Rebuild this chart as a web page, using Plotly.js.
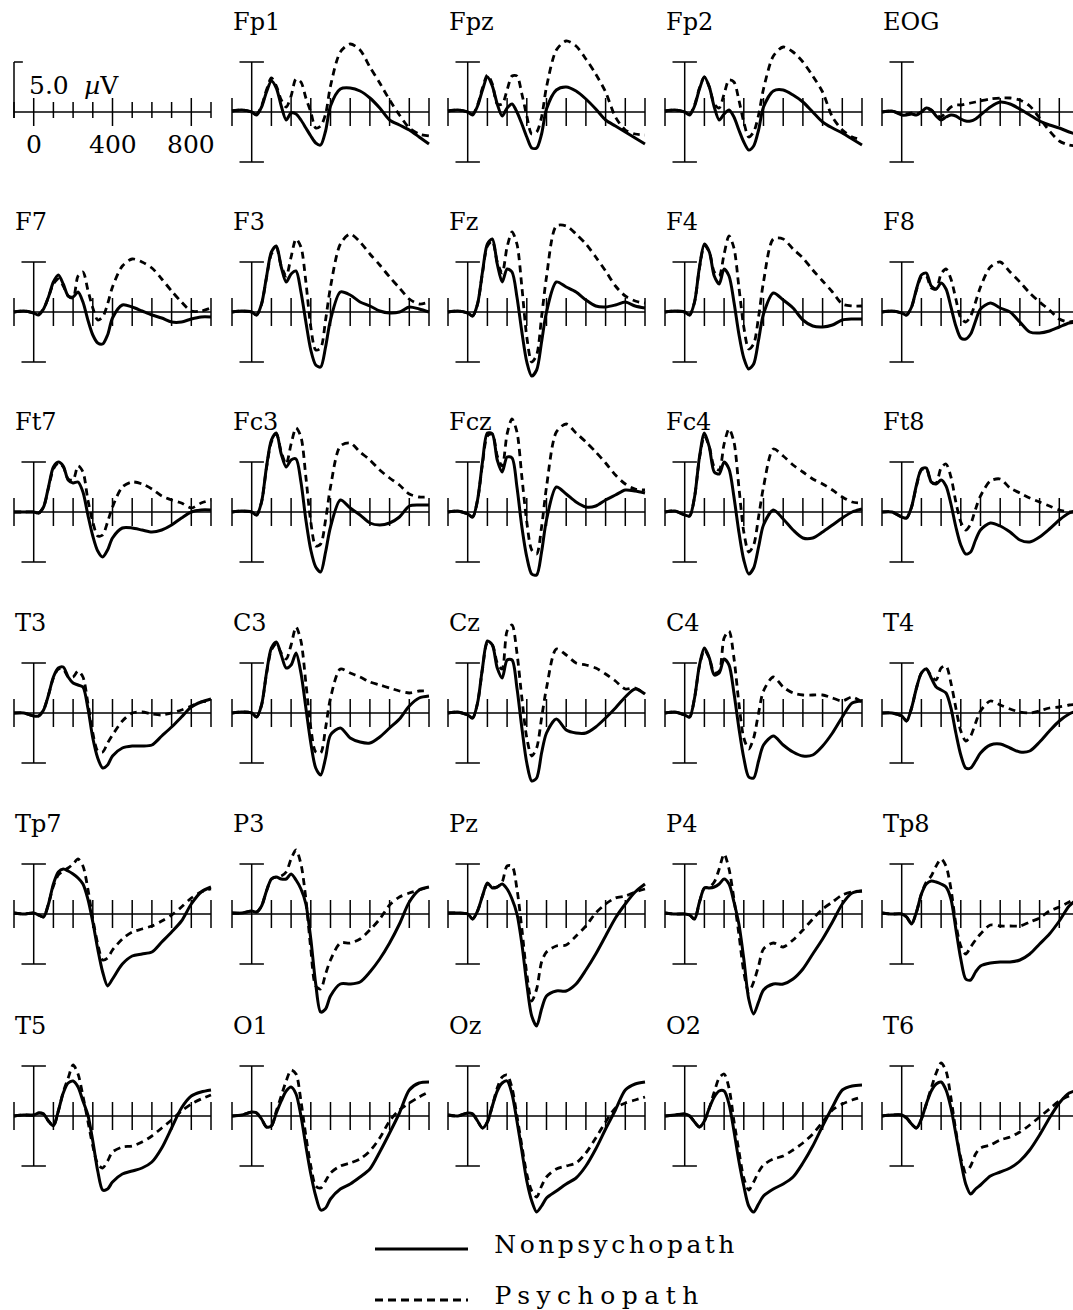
<!DOCTYPE html>
<html><head><meta charset="utf-8">
<script src="https://cdn.plot.ly/plotly-3.0.1.min.js"></script>
<style>html,body{margin:0;padding:0;background:#fff;overflow:hidden}#chart{width:1073px;height:1310px}</style>
</head><body><div id="chart"></div>
<script>
// time points (ms)
const times = [-100,-50,0,25,50,75,100,125,150,175,200,225,250,275,300,325,350,375,400,450,500,550,600,650,700,750,800,850,900];

// amplitudes (microvolts) : Non = Nonpsychopath (solid), Psy = Psychopath (dashed)
const fp1Non = [0.1,0.2,0.0,-0.3,0.5,2.0,3.1,2.4,0.6,-0.8,-0.1,-0.2,-0.8,-1.6,-2.4,-3.1,-3.3,-1.9,0.6,2.3,2.4,2.1,1.4,0.4,-0.8,-1.3,-1.8,-2.5,-3.2];
const fp1Psy = [0.1,0.2,0.0,-0.2,0.6,2.2,3.4,2.6,1.2,0.5,1.6,3.3,3.0,1.4,0.0,-1.6,-1.4,-0.2,2.6,6.0,6.8,6.2,4.5,2.9,1.2,-0.3,-1.6,-2.2,-2.4];
const fpzNon = [0.1,0.2,0.0,-0.3,0.6,2.2,3.5,2.6,0.8,-0.4,0.4,0.8,0.0,-1.2,-2.5,-3.6,-3.6,-2.2,0.3,2.2,2.5,2.1,1.3,0.3,-0.8,-1.4,-2.0,-2.6,-3.2];
const fpzPsy = [0.1,0.2,0.0,-0.2,0.7,2.4,3.7,2.8,0.8,0.8,2.2,3.6,3.6,1.8,-0.4,-2.2,-2.0,-0.5,2.5,6.2,7.1,6.6,5.3,3.8,2.0,-0.5,-1.8,-2.2,-2.3];
const fp2Non = [0.1,0.2,0.0,-0.3,0.6,2.3,3.5,2.5,0.5,-0.8,-0.2,0.2,-0.5,-1.8,-3.0,-3.8,-3.4,-1.8,0.5,2.1,2.2,1.7,1.0,0.0,-1.0,-1.6,-2.1,-2.7,-3.3];
const fp2Psy = [0.1,0.2,0.0,-0.2,0.7,2.4,3.5,2.5,0.8,0.4,1.8,3.2,3.0,1.2,-1.0,-2.5,-2.0,-0.3,2.3,5.6,6.5,6.0,5.0,3.6,2.0,-0.5,-1.8,-2.5,-2.8];
const eogNon = [0.0,0.1,-0.3,-0.3,-0.2,-0.3,0.0,0.4,0.2,-0.4,-0.8,-0.5,-0.3,-0.4,-0.7,-0.9,-0.9,-0.7,-0.3,0.5,1.0,0.8,0.3,-0.3,-0.9,-1.3,-1.6,-2.0,-2.3];
const eogPsy = [0.0,0.1,-0.2,-0.2,-0.1,-0.2,0.0,0.2,0.2,-0.3,-0.5,0.0,0.5,0.7,0.7,0.8,0.9,1.0,1.1,1.3,1.4,1.4,1.2,0.6,-0.6,-1.9,-2.9,-3.3,-3.4];

const f7Non = [0.0,0.1,-0.1,-0.3,0.3,1.5,3.0,3.7,2.8,1.6,1.5,2.0,1.0,-0.8,-2.3,-3.1,-3.2,-2.3,-0.6,0.7,0.5,0.1,-0.3,-0.6,-1.0,-1.0,-0.7,-0.5,-0.5];
const f7Psy = [0.0,0.1,-0.1,-0.2,0.3,1.5,2.8,3.3,2.6,1.6,1.4,3.6,4.0,2.2,0.4,-0.8,-0.5,0.8,2.5,4.6,5.3,5.0,4.4,3.3,2.1,1.0,0.1,0.1,0.4];
const f3Non = [0.0,0.1,0.0,-0.3,0.8,3.5,6.0,6.6,4.5,3.0,3.8,4.1,2.0,-1.0,-3.8,-5.3,-5.5,-3.5,-0.8,2.0,1.7,1.0,0.6,0.1,-0.1,0.0,0.5,0.3,0.0];
const f3Psy = [0.0,0.1,0.0,-0.3,0.8,3.4,5.8,6.4,4.6,3.6,5.5,7.3,6.5,3.0,-1.5,-3.8,-3.6,-0.8,2.5,6.8,7.8,7.0,5.8,4.7,3.5,2.4,1.3,0.8,1.0];
const fzNon = [0.0,0.1,-0.1,-0.4,0.8,4.0,6.8,7.3,4.8,3.0,4.3,4.0,1.5,-2.0,-5.0,-6.4,-5.8,-3.0,0.0,3.0,2.5,2.0,1.2,0.6,0.5,0.7,1.0,0.6,0.4];
const fzPsy = [0.0,0.1,-0.1,-0.4,0.8,3.9,6.6,7.1,5.0,3.9,6.5,8.0,6.8,2.5,-2.5,-5.0,-4.3,-0.5,3.5,8.6,8.6,7.8,6.8,5.5,4.1,2.6,1.6,1.1,0.9];
const f4Non = [0.0,0.1,0.0,-0.3,1.0,4.5,6.8,6.0,3.6,2.8,4.3,3.6,1.0,-2.2,-4.6,-5.7,-5.2,-2.8,-0.2,1.9,1.2,0.4,-0.8,-1.4,-1.5,-1.3,-0.8,-0.7,-0.7];
const f4Psy = [0.0,0.1,0.0,-0.3,1.0,4.4,6.6,6.0,4.0,3.6,5.8,7.6,6.4,2.5,-1.5,-3.7,-3.2,-0.5,3.0,7.3,7.3,6.3,5.4,4.2,3.1,2.0,0.8,0.6,0.6];
const f8Non = [0.0,0.1,-0.1,-0.3,0.5,2.3,3.7,3.9,2.6,2.3,2.9,2.3,0.5,-1.4,-2.6,-2.7,-2.2,-0.9,0.3,0.9,0.4,0.0,-1.0,-2.0,-2.1,-1.9,-1.5,-1.1,-1.0];
const f8Psy = [0.0,0.1,-0.1,-0.3,0.5,2.2,3.5,3.6,2.4,2.3,3.8,4.3,3.3,1.3,-0.6,-1.0,-0.4,1.0,2.5,4.5,5.0,4.0,3.0,1.9,1.0,0.2,-0.7,-1.0,-0.8];

const ft7Non = [0.0,0.0,0.0,-0.1,0.5,2.5,4.5,5.0,4.6,3.2,2.9,3.0,2.0,-0.3,-2.4,-3.9,-4.5,-3.8,-2.6,-1.6,-1.6,-1.8,-2.0,-1.8,-1.3,-0.6,0.0,0.2,0.2];
const ft7Psy = [0.0,0.0,0.0,-0.1,0.5,2.4,4.3,4.9,4.5,3.3,3.2,4.6,4.0,1.2,-1.0,-2.4,-2.3,-1.0,0.5,2.5,3.0,2.8,2.3,1.6,1.2,0.9,0.4,0.9,1.2];
const fc3Non = [0.0,0.1,0.0,-0.3,1.0,4.5,7.2,7.9,5.8,4.5,5.2,5.3,3.0,-0.8,-3.8,-5.5,-6.0,-4.0,-1.5,1.2,0.4,-0.3,-1.1,-1.3,-1.1,-0.5,0.6,0.7,0.7];
const fc3Psy = [0.0,0.1,0.0,-0.3,1.0,4.4,7.0,7.8,6.0,4.8,6.8,8.4,7.5,3.5,-1.0,-3.4,-3.2,-0.8,2.5,6.6,6.9,6.0,5.2,4.2,3.4,2.7,1.8,1.5,1.5];
const fczNon = [0.0,0.1,-0.2,-0.5,1.2,5.0,7.9,7.8,5.2,4.0,5.5,5.4,2.5,-1.5,-4.5,-6.2,-6.3,-4.0,-0.8,2.5,1.8,1.0,0.5,0.6,1.2,1.7,2.2,2.1,1.9];
const fczPsy = [0.0,0.1,-0.2,-0.5,1.2,4.8,7.6,7.8,5.6,4.6,7.8,9.3,8.0,3.5,-1.0,-3.8,-4.2,-1.5,2.5,8.0,8.8,7.9,7.0,6.0,4.9,3.7,2.8,2.3,2.2];
const fc4Non = [0.0,0.1,-0.3,-0.4,1.5,5.5,7.9,6.5,4.0,3.8,5.0,4.3,1.5,-2.0,-4.8,-6.2,-5.6,-3.5,-1.3,0.2,-0.7,-1.8,-2.6,-2.6,-2.0,-1.3,-0.6,0.0,0.3];
const fc4Psy = [0.0,0.1,-0.3,-0.4,1.5,5.4,7.6,6.5,4.5,4.2,6.8,8.3,7.0,2.5,-2.0,-4.0,-3.3,-0.5,2.5,6.3,5.6,4.7,4.0,3.3,2.8,2.2,1.5,1.0,0.9];
const ft8Non = [0.0,0.0,-0.5,-0.6,0.5,2.7,4.3,4.4,3.0,2.8,3.2,2.6,0.8,-1.5,-3.3,-4.2,-4.0,-2.8,-1.8,-1.1,-1.4,-2.0,-2.8,-3.0,-2.5,-1.7,-0.8,-0.1,0.2];
const ft8Psy = [0.0,0.0,-0.5,-0.6,0.5,2.6,4.2,4.3,3.0,2.9,4.4,4.8,3.5,1.0,-1.0,-1.8,-1.2,0.3,1.6,3.1,3.3,2.4,1.9,1.4,1.0,0.6,0.2,0.0,0.0];

const t3Non = [0.0,0.0,-0.3,-0.3,0.3,1.8,3.6,4.5,4.6,3.6,3.0,2.8,2.6,0.5,-2.5,-4.5,-5.5,-5.2,-4.3,-3.5,-3.3,-3.3,-3.2,-2.3,-1.4,-0.4,0.6,1.1,1.4];
const t3Psy = [0.0,0.0,-0.3,-0.3,0.3,1.8,3.5,4.4,4.4,3.6,3.6,4.2,3.6,1.0,-2.0,-3.8,-3.9,-3.0,-2.2,-0.8,0.0,0.1,-0.1,-0.2,0.0,0.3,0.7,1.1,1.2];
const c3Non = [0.0,0.1,0.0,-0.4,0.8,4.0,6.5,7.1,5.8,4.5,4.8,6.0,4.0,0.5,-3.0,-5.5,-6.2,-4.5,-2.2,-1.5,-2.5,-2.9,-3.0,-2.4,-1.5,-0.6,0.7,1.5,1.7];
const c3Psy = [0.0,0.1,0.0,-0.4,0.8,3.9,6.3,6.9,6.0,5.4,6.8,8.6,7.2,3.0,-1.5,-3.9,-4.0,-1.5,1.5,4.4,4.0,3.6,3.1,2.8,2.5,2.2,2.0,2.2,2.2];
const czNon = [0.0,0.1,-0.2,-0.5,1.0,4.5,7.2,6.8,4.5,3.5,5.3,5.3,2.5,-1.5,-5.0,-6.8,-6.5,-4.0,-2.0,-0.6,-1.7,-2.0,-2.0,-1.4,-0.5,0.5,1.6,2.4,1.9];
const czPsy = [0.0,0.1,-0.2,-0.5,1.0,4.4,7.0,6.8,5.0,4.4,8.2,8.8,6.0,1.5,-2.5,-4.3,-3.5,-0.5,2.5,6.4,5.8,5.0,4.8,4.5,3.9,3.2,2.4,2.5,1.9];
const c4Non = [0.0,0.1,-0.2,-0.4,1.5,4.8,6.5,5.5,3.8,4.0,5.4,4.8,2.0,-1.5,-4.5,-6.4,-6.5,-4.8,-3.2,-2.3,-3.2,-3.9,-4.3,-4.2,-3.3,-2.0,-0.4,1.0,1.2];
const c4Psy = [0.0,0.1,-0.2,-0.4,1.5,4.7,6.3,5.5,4.0,4.2,7.5,8.2,5.5,1.0,-2.5,-3.6,-2.5,0.0,2.2,3.6,2.6,2.0,1.8,1.8,1.8,1.5,1.2,1.6,1.1];
const t4Non = [0.0,0.0,-0.3,-0.8,0.5,2.5,4.0,4.4,3.5,2.6,2.3,2.0,0.5,-2.0,-4.2,-5.5,-5.5,-4.8,-4.0,-3.2,-3.1,-3.5,-3.9,-3.8,-2.9,-1.8,-0.8,-0.1,0.3];
const t4Psy = [0.0,0.0,-0.3,-0.8,0.5,2.5,4.0,4.4,3.7,3.3,4.5,4.7,3.0,0.5,-1.8,-2.8,-2.3,-1.0,0.2,1.2,0.8,0.4,0.1,0.0,0.2,0.5,0.6,0.8,0.9];

const tp7Non = [0.1,0.0,0.1,-0.1,-0.3,1.0,3.0,4.2,4.5,4.3,4.0,3.6,3.0,1.5,-0.8,-3.5,-5.8,-7.2,-6.5,-5.0,-4.2,-4.0,-3.8,-2.8,-1.8,-0.7,1.0,2.2,2.7];
const tp7Psy = [0.1,0.0,0.1,-0.1,-0.3,1.0,2.8,3.9,4.3,4.6,5.0,5.5,4.8,2.5,-0.5,-3.0,-4.6,-4.4,-3.6,-2.5,-1.8,-1.5,-1.2,-0.7,-0.1,0.7,1.6,2.2,2.5];
const p3Non = [0.1,0.1,0.3,0.2,0.8,2.3,3.5,3.7,3.5,3.5,4.0,3.4,2.5,1.0,-2.5,-7.0,-9.8,-9.5,-8.2,-7.0,-7.0,-6.8,-5.8,-4.5,-2.9,-1.0,1.2,2.4,2.7];
const p3Psy = [0.1,0.1,0.3,0.2,0.8,2.3,3.5,3.7,3.8,4.2,5.5,6.4,5.0,1.5,-3.5,-7.2,-7.5,-6.0,-4.6,-2.9,-2.9,-2.5,-1.6,-0.5,0.9,1.7,2.1,2.4,2.7];
const pzNon = [0.1,0.1,0.0,-0.5,0.3,1.8,3.1,2.6,2.7,3.0,2.5,1.5,0.0,-3.0,-7.0,-10.2,-11.2,-9.5,-8.2,-7.7,-7.7,-7.0,-5.6,-4.0,-2.2,-0.4,1.0,2.2,3.0];
const pzPsy = [0.1,0.1,0.0,-0.5,0.3,1.8,3.0,2.7,2.7,3.2,4.8,4.8,2.5,-1.5,-6.0,-8.7,-7.5,-4.8,-3.8,-3.2,-3.1,-2.2,-1.2,0.1,1.0,1.6,1.8,2.2,2.5];
const p4Non = [0.1,0.0,0.0,-0.1,-0.5,1.2,2.6,2.6,2.7,3.0,3.5,3.0,1.2,-1.0,-4.5,-8.5,-10.0,-8.8,-7.6,-7.0,-7.0,-6.5,-5.5,-4.0,-2.5,-0.8,1.0,2.1,2.3];
const p4Psy = [0.1,0.0,0.0,-0.1,-0.5,1.2,2.6,2.7,3.2,4.5,6.0,4.5,1.5,-2.0,-5.8,-7.8,-6.8,-5.2,-3.5,-2.9,-3.3,-2.6,-1.6,-0.5,0.5,1.2,1.9,2.2,2.3];
const tp8Non = [0.1,0.0,0.0,-0.3,-1.0,0.2,2.0,3.0,3.3,3.2,3.0,2.7,1.5,-1.5,-4.5,-6.5,-6.6,-5.8,-5.2,-4.9,-4.8,-4.8,-4.6,-4.0,-3.0,-2.0,-0.7,0.8,1.6];
const tp8Psy = [0.1,0.0,0.0,-0.3,-1.0,0.2,2.0,3.2,3.8,4.8,5.5,4.8,2.5,-1.0,-3.2,-4.0,-3.3,-2.6,-2.0,-1.1,-1.2,-1.2,-1.2,-0.8,-0.4,0.3,0.7,1.2,1.7];

const t5Non = [0.0,0.1,0.1,0.3,0.2,-0.5,-1.0,0.5,2.3,3.3,3.5,2.9,1.5,0.1,-2.5,-5.5,-7.4,-7.3,-6.6,-5.8,-5.5,-5.2,-4.6,-3.2,-1.2,0.8,2.0,2.4,2.6];
const t5Psy = [0.0,0.1,0.1,0.3,0.2,-0.5,-1.0,0.5,2.4,3.8,5.1,4.2,2.0,-0.5,-3.0,-4.8,-5.2,-4.5,-3.6,-3.1,-3.0,-2.6,-2.0,-1.2,-0.4,0.5,1.2,1.7,2.1];
const o1Non = [0.0,0.1,0.4,0.3,-0.3,-1.1,-1.0,0.3,1.5,2.5,2.9,2.2,0.0,-3.0,-5.8,-8.0,-9.4,-9.2,-8.3,-7.3,-6.8,-6.1,-5.3,-3.6,-1.7,0.3,2.6,3.3,3.4];
const o1Psy = [0.0,0.1,0.4,0.3,-0.3,-1.1,-1.0,0.5,2.0,3.5,4.6,4.2,1.5,-2.0,-5.0,-7.0,-7.2,-6.5,-5.7,-5.0,-4.7,-4.3,-3.5,-2.2,-0.5,0.6,1.3,1.9,2.4];
const ozNon = [0.1,0.0,0.3,0.2,-0.5,-1.2,-0.6,1.0,2.5,3.3,3.5,2.2,-0.5,-3.5,-6.5,-8.5,-9.6,-9.0,-8.2,-7.5,-6.8,-6.2,-5.0,-3.3,-1.3,0.6,2.6,3.2,3.4];
const ozPsy = [0.1,0.0,0.3,0.2,-0.5,-1.2,-0.6,1.0,2.8,3.9,4.1,2.8,0.0,-3.0,-5.8,-7.5,-8.1,-7.0,-6.1,-5.3,-5.0,-4.7,-3.7,-2.2,-0.6,0.8,1.3,1.6,1.9];
const o2Non = [0.0,0.1,0.2,0.0,-0.6,-1.1,-0.5,0.8,1.9,2.5,2.5,1.2,-1.5,-4.5,-7.0,-9.0,-9.6,-8.8,-8.0,-7.3,-6.8,-6.1,-4.7,-3.0,-1.0,0.9,2.6,3.0,3.1];
const o2Psy = [0.0,0.1,0.2,0.0,-0.6,-1.1,-0.5,0.8,2.4,3.8,4.2,2.8,-0.5,-3.5,-6.2,-7.4,-6.6,-5.6,-4.9,-4.3,-4.0,-3.4,-2.7,-1.8,-0.6,0.6,1.2,1.6,1.9];
const t6Non = [0.0,0.1,0.1,-0.2,-0.8,-1.2,-0.3,1.2,2.5,3.2,3.4,2.6,0.8,-1.8,-4.5,-6.8,-7.8,-7.3,-6.9,-6.0,-5.6,-5.2,-4.5,-3.4,-1.9,-0.2,1.3,2.3,2.6];
const t6Psy = [0.0,0.1,0.1,-0.2,-0.8,-1.2,-0.3,1.2,2.8,4.3,5.3,4.5,1.8,-1.5,-4.2,-5.6,-5.0,-3.8,-3.2,-2.9,-2.4,-2.1,-1.6,-0.9,-0.1,0.7,1.5,2.0,2.3];

// channel labels, in grid order after the scale panel
const channelNames = ["Fp1","Fpz","Fp2","EOG","F7","F3","Fz","F4","F8","Ft7","Fc3","Fcz","Fc4","Ft8","T3","C3","Cz","C4","T4","Tp7","P3","Pz","P4","Tp8","T5","O1","Oz","O2","T6"];
const nonSeries = [fp1Non,fpzNon,fp2Non,eogNon,f7Non,f3Non,fzNon,f4Non,f8Non,ft7Non,fc3Non,fczNon,fc4Non,ft8Non,t3Non,c3Non,czNon,c4Non,t4Non,tp7Non,p3Non,pzNon,p4Non,tp8Non,t5Non,o1Non,ozNon,o2Non,t6Non];
const psySeries = [fp1Psy,fpzPsy,fp2Psy,eogPsy,f7Psy,f3Psy,fzPsy,f4Psy,f8Psy,ft7Psy,fc3Psy,fczPsy,fc4Psy,ft8Psy,t3Psy,c3Psy,czPsy,c4Psy,t4Psy,tp7Psy,p3Psy,pzPsy,p4Psy,tp8Psy,t5Psy,o1Psy,ozPsy,o2Psy,t6Psy];
const legendNames = ["Nonpsychopath","Psychopath"];
const scaleTickLabels = [0,400,800];

// ---- geometry ----
const W = 1073, H = 1310;
const PX_PER_MS = 0.197, PX_PER_UV = 10;
const colLeft = [14, 232, 448, 665, 882];
const rowBase = [112, 312, 512, 713, 914, 1116];
const ABOVE = 110, BELOW = 125;
const AX = {color:'#000', width:1.5};
const legendSpacing = [3.5, 6.5];   // letter spacing (px) of the legend texts

const data = [];
const layout = {
  width: W, height: H, margin:{l:0,r:0,t:0,b:0},
  paper_bgcolor:'#fff', plot_bgcolor:'rgba(0,0,0,0)', showlegend:false,
  font:{family:'DejaVu Serif', color:'#000'},
  shapes:[], annotations:[]
};

function seg(xr, yr, x0, x1, y0, y1, line) {
  layout.shapes.push({type:'line', xref:xr, yref:yr, x0:x0, x1:x1, y0:y0, y1:y1, line:line || AX, layer:'above'});
}

for (let p = 0; p < 30; p++) {
  const r = Math.floor(p / 5), c = p % 5, n = p + 1;
  const xk = n === 1 ? 'xaxis' : 'xaxis' + n, yk = n === 1 ? 'yaxis' : 'yaxis' + n;
  const xid = n === 1 ? 'x' : 'x' + n, yid = n === 1 ? 'y' : 'y' + n;
  const x0 = colLeft[c], x1 = Math.min(x0 + 1000 * PX_PER_MS + 2, W);
  const xr0 = -100 - 1 / PX_PER_MS;
  layout[xk] = {domain:[(x0 - 1) / W, x1 / W], range:[xr0, xr0 + (x1 - x0 + 1) / PX_PER_MS], visible:false, anchor:yid, fixedrange:true};
  const yTop = rowBase[r] - ABOVE, yBot = rowBase[r] + BELOW;
  layout[yk] = {domain:[(H - yBot) / H, (H - yTop) / H], range:[-BELOW / PX_PER_UV, ABOVE / PX_PER_UV], visible:false, anchor:xid, fixedrange:true};

  // horizontal axis line
  seg(xid, yid, -100, 900, 0, 0);
  if (p === 0) {
    // scale panel
    for (let t = -100; t <= 900; t += 100) {
      if (t === 0 || t === 400 || t === 800) seg(xid, yid, t, t, -1.4, 1.4);
      else seg(xid, yid, t, t, -0.6, 1.0);
    }
    seg(xid, yid, -100, -100, -0.6, 5);
    seg(xid, yid, -100, -55, 5, 5);
    layout.annotations.push({xref:xid, yref:yid, x:-36, y:2.6, xanchor:'left', yanchor:'middle', text:'5.0', showarrow:false, font:{size:25, family:'DejaVu Serif'}});
    layout.annotations.push({xref:xid, yref:yid, x:244, y:2.6, xanchor:'left', yanchor:'middle', text:'<i>µ</i>V', showarrow:false, font:{size:25, family:'DejaVu Serif'}});
    scaleTickLabels.forEach(v => layout.annotations.push({xref:xid, yref:yid, x:v, y:-3.3, xanchor:'center', yanchor:'middle', text:String(v), showarrow:false, font:{size:25, family:'DejaVu Serif'}}));
    continue;
  }
  for (let t = -100; t <= 900; t += 100) if (t !== 0) seg(xid, yid, t, t, -1.4, 1.4);
  seg(xid, yid, 0, 0, -5, 5);
  seg(xid, yid, -62, 62, 5, 5);
  seg(xid, yid, -62, 62, -5, -5);

  const i = p - 1;
  layout.annotations.push({xref:'paper', yref:'paper', x:(colLeft[c] - 1) / W, y:1 - (rowBase[r] - 90) / H, xanchor:'left', yanchor:'middle', text:channelNames[i], showarrow:false, font:{size:24, family:'DejaVu Serif'}});

  data.push({x:times, y:nonSeries[i], xaxis:xid, yaxis:yid, mode:'lines', name:legendNames[0], hoverinfo:'skip',
    line:{color:'#000', width:3, shape:'spline', smoothing:0.8}});
  data.push({x:times, y:psySeries[i], xaxis:xid, yaxis:yid, mode:'lines', name:legendNames[1], hoverinfo:'skip',
    line:{color:'#000', width:2.8, dash:'7px,5px', shape:'spline', smoothing:0.8}});
}

// legend (drawn manually below the grid)
layout.shapes.push({type:'line', xref:'paper', yref:'paper', x0:375 / W, x1:468 / W, y0:1 - 1249 / H, y1:1 - 1249 / H, line:{color:'#000', width:3.2}});
layout.shapes.push({type:'line', xref:'paper', yref:'paper', x0:375 / W, x1:468 / W, y0:1 - 1300 / H, y1:1 - 1300 / H, line:{color:'#000', width:3.2, dash:'8px,5px'}});
[1244, 1295].forEach((yc, k) => {
  const shift = legendNames[k].length * legendSpacing[k] / 2;  // letter spacing grows the text around its centre
  layout.annotations.push({xref:'paper', yref:'paper', x:(492 + shift) / W, y:1 - yc / H, xanchor:'left', yanchor:'middle', text:legendNames[k], showarrow:false, font:{size:25, family:'DejaVu Serif'}});
});

Plotly.newPlot('chart', data, layout, {staticPlot:true, displayModeBar:false}).then(() => {
  document.querySelectorAll('.annotation-text').forEach(t => {
    const k = legendNames.indexOf(t.textContent);
    if (k >= 0) t.style.letterSpacing = legendSpacing[k] + 'px';
  });
});
</script>
</body></html>
